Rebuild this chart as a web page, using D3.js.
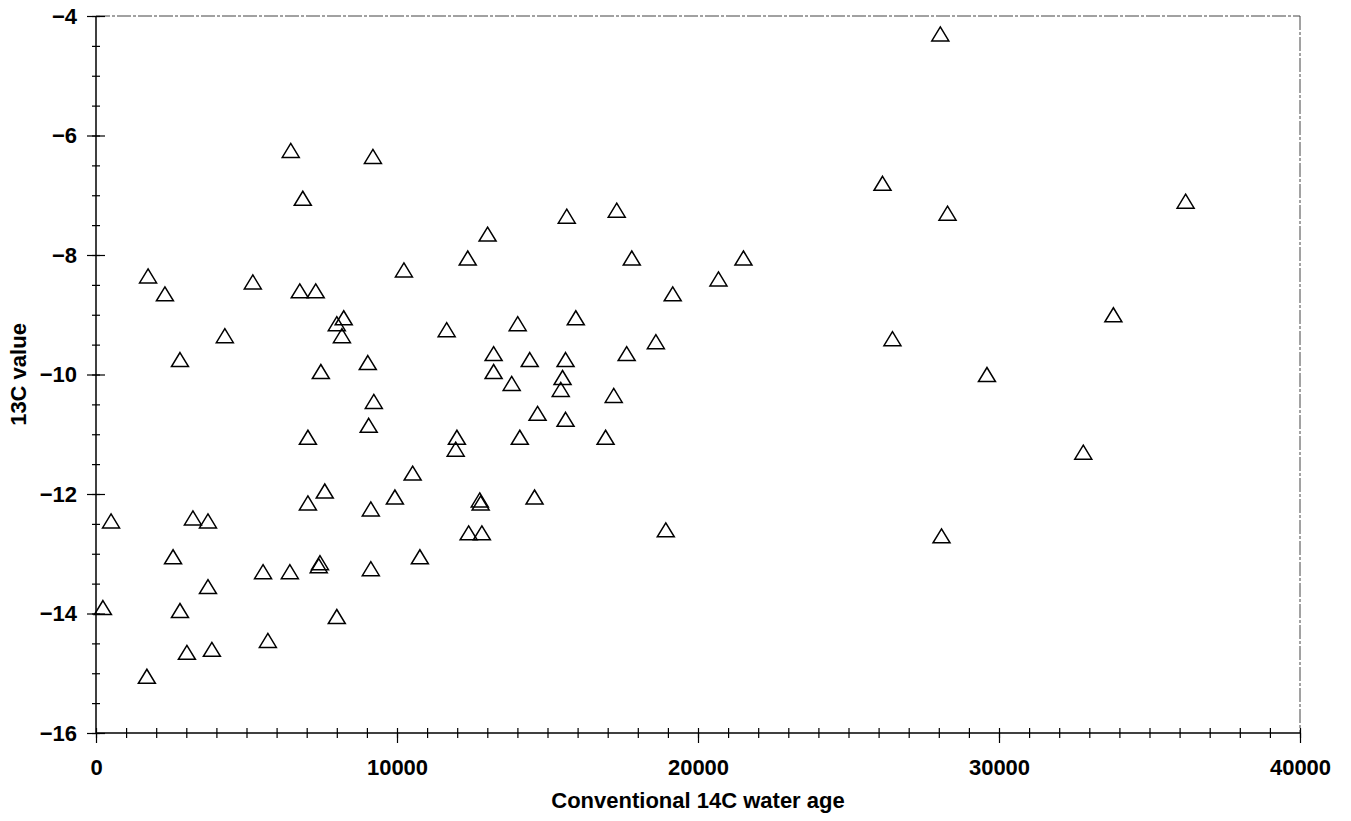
<!DOCTYPE html>
<html>
<head>
<meta charset="utf-8">
<script src="https://cdn.jsdelivr.net/npm/d3@7"></script>
<style>
  html, body { margin: 0; padding: 0; background: #fff; }
  svg { display: block; }
  text { font-family: "Liberation Sans", Arial, sans-serif; }
</style>
</head>
<body>
<svg id="chart" width="1351" height="821"></svg>
<script>
// ---- data ----
const ageValues = [230, 500, 1730, 1690, 2290, 2560, 2790, 2790, 3020, 3220, 3720, 3720, 3850, 4280, 5210, 5550, 5710, 6440, 6470, 6770, 6870, 7040, 7040, 7300, 7400, 7440, 7470, 7600, 8000, 8000, 8230, 8170, 9030, 9060, 9130, 9130, 9200, 9230, 9930, 10230, 10520, 10760, 11650, 11990, 11950, 12350, 12380, 12750, 12780, 12820, 13010, 13210, 13210, 13810, 14010, 14080, 14410, 14570, 14670, 15440, 15500, 15600, 15600, 15640, 15940, 16930, 17200, 17300, 17630, 17800, 18600, 18930, 19160, 20680, 21510, 26130, 26460, 28050, 28090, 28290, 29600, 32800, 33800, 36200];
const c13Values = [-13.9, -12.45, -8.35, -15.05, -8.65, -13.05, -9.75, -13.95, -14.65, -12.4, -12.45, -13.55, -14.6, -9.35, -8.45, -13.3, -14.45, -13.3, -6.25, -8.6, -7.05, -11.05, -12.15, -8.6, -13.2, -13.15, -9.95, -11.95, -14.05, -9.15, -9.05, -9.35, -9.8, -10.85, -12.25, -13.25, -6.35, -10.45, -12.05, -8.25, -11.65, -13.05, -9.25, -11.05, -11.25, -8.05, -12.65, -12.1, -12.15, -12.65, -7.65, -9.65, -9.95, -10.15, -9.15, -11.05, -9.75, -12.05, -10.65, -10.25, -10.05, -9.75, -10.75, -7.35, -9.05, -11.05, -10.35, -7.25, -9.65, -8.05, -9.45, -12.6, -8.65, -8.4, -8.05, -6.8, -9.4, -4.3, -12.7, -7.3, -10.0, -11.3, -9.0, -7.1];
const xTickLabels = [0, 10000, 20000, 30000, 40000];
const yTickLabels = [-4, -6, -8, -10, -12, -14, -16];
const xTitle = "Conventional 14C water age";
const yTitle = "13C value";

// ---- layout ----
const L = 96, T = 16, R = 1300, B = 733;
const svg = d3.select("#chart");

const x = d3.scaleLinear().domain([0, 40000]).range([L, R]);
const y = d3.scaleLinear().domain([-16, -4]).range([B, T]);

const xMinor = d3.range(0, 40001, 1000);
const yMinor = d3.range(-16, -3.99, 0.5);

// frame top & right (thin, broken)
svg.append("line").attr("x1", L).attr("x2", R).attr("y1", T).attr("y2", T)
  .attr("stroke", "#444").attr("stroke-width", 1).attr("stroke-dasharray", "14,2,3,2");
svg.append("line").attr("x1", R).attr("x2", R).attr("y1", T).attr("y2", B)
  .attr("stroke", "#444").attr("stroke-width", 1).attr("stroke-dasharray", "14,2,3,2");

function styleAxis(g) {
  g.select(".domain").remove();
  g.selectAll("line").attr("stroke", "#000").attr("stroke-width", 1.2);
}
// x axis: crossing ticks
svg.append("g").attr("transform", `translate(0,${B})`)
  .call(d3.axisBottom(x).tickValues(xMinor).tickSize(5).tickFormat(""))
  .call(styleAxis);
svg.append("g").attr("transform", `translate(0,${B})`)
  .call(d3.axisTop(x).tickValues(xMinor).tickSize(5).tickFormat(""))
  .call(styleAxis);
const xMajor = svg.append("g").attr("transform", `translate(0,${B})`)
  .call(d3.axisBottom(x).tickValues(xTickLabels).tickSize(10).tickPadding(16).tickFormat(d3.format("d")));
xMajor.select(".domain").remove();
xMajor.selectAll("line").attr("stroke", "#000").attr("stroke-width", 1.2);
xMajor.selectAll("text").attr("font-size", 22).attr("font-weight", "bold").attr("fill", "#000")
  .attr("font-family", "'Liberation Sans', Arial, sans-serif");

// y axis: crossing ticks
svg.append("g").attr("transform", `translate(${L},0)`)
  .call(d3.axisLeft(y).tickValues(yMinor).tickSize(4).tickFormat(""))
  .call(styleAxis);
svg.append("g").attr("transform", `translate(${L},0)`)
  .call(d3.axisRight(y).tickValues(yMinor).tickSize(4).tickFormat(""))
  .call(styleAxis);
svg.append("g").attr("transform", `translate(${L},0)`)
  .call(d3.axisRight(y).tickValues(yTickLabels).tickSize(9).tickFormat(""))
  .call(styleAxis);
const yMajor = svg.append("g").attr("transform", `translate(${L},0)`)
  .call(d3.axisLeft(y).tickValues(yTickLabels).tickSize(9).tickPadding(10).tickFormat(d3.format("d")));
yMajor.select(".domain").remove();
yMajor.selectAll("line").attr("stroke", "#000").attr("stroke-width", 1.2);
yMajor.selectAll("text").attr("font-size", 22).attr("font-weight", "bold").attr("fill", "#000")
  .attr("font-family", "'Liberation Sans', Arial, sans-serif");

// axis lines (left & bottom solid)
svg.append("line").attr("x1", L).attr("x2", L).attr("y1", T).attr("y2", B + 1)
  .attr("stroke", "#000").attr("stroke-width", 1.5);
svg.append("line").attr("x1", L).attr("x2", R).attr("y1", B).attr("y2", B)
  .attr("stroke", "#000").attr("stroke-width", 1.5);

// markers: open triangles
const w = 17, h = 14;
const tri = `M0,${-h/2}L${w/2},${h/2}L${-w/2},${h/2}Z`;
svg.append("g").selectAll("path")
  .data(d3.zip(ageValues, c13Values))
  .join("path")
  .attr("d", tri)
  .attr("transform", d => `translate(${x(d[0])},${y(d[1])})`)
  .attr("fill", "none").attr("stroke", "#000").attr("stroke-width", 1.5)
  .attr("stroke-linejoin", "miter");

// titles
svg.append("text").attr("x", (L + R) / 2).attr("y", 808)
  .attr("text-anchor", "middle").attr("font-size", 22).attr("font-weight", "bold")
  .text(xTitle);
svg.append("text").attr("transform", `translate(26,${(T + B) / 2}) rotate(-90)`)
  .attr("text-anchor", "middle").attr("font-size", 22).attr("font-weight", "bold")
  .text(yTitle);
</script>
</body>
</html>
